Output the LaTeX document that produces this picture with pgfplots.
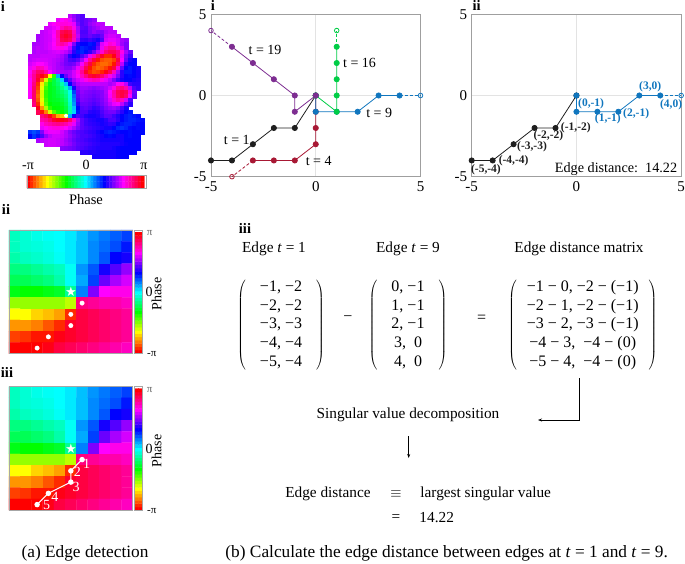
\documentclass[border=0pt]{standalone}
\usepackage{pgfplots}
\usepackage{pgfplotstable}
\usepackage{fontspec}
\setmainfont{Liberation Serif}
\newfontfamily\symfont{DejaVu Sans}
\usetikzlibrary{arrows.meta}
\pgfplotsset{compat=1.18}

\definecolor{tblack}{RGB}{30,30,30}
\definecolor{tred}{RGB}{168,24,52}
\definecolor{tblue}{RGB}{16,118,190}
\definecolor{tgreen}{RGB}{0,205,70}
\definecolor{tpurple}{RGB}{125,45,145}

\newcommand{\ft}{\fontsize{14}{16}\selectfont}
\newcommand{\ftm}{\fontsize{15.3}{18}\selectfont}
\newcommand{\ftx}{\fontsize{16}{18.7}\selectfont}
\newcommand{\ftc}{\fontsize{17.3}{20}\selectfont}
\newcommand{\fts}{\fontsize{11.5}{13}\selectfont\bfseries}
\newcommand{\ftb}{\fontsize{14.5}{17}\selectfont\bfseries}

\pgfplotsset{
  phase map/.style={colormap={phase}{rgb255(0)=(255,0,0) rgb255(60)=(255,255,0) rgb255(120)=(0,255,0) rgb255(180)=(0,255,255) rgb255(240)=(0,0,255) rgb255(300)=(255,0,255) rgb255(360)=(255,0,0)},
    point meta min=0, point meta max=360},
  edge axis/.style={scale only axis, anchor=north west, width=209.5pt, height=162.4pt,
    xmin=-5, xmax=5, ymin=-5, ymax=5, xtick={-5,0,5}, ytick={-5,0,5},
    xticklabels={-5,0,5}, yticklabels={-5,0,5},
    tick style={draw=none}, grid=major, grid style={gray!22, line width=0.6pt},
    axis line style={gray!75, line width=0.8pt}, clip=false,
    tick label style={font=\fontsize{15}{16}\selectfont}, xticklabel style={yshift=-1pt}, yticklabel style={xshift=-1pt}},
  edge/.style={#1, line width=0.8pt, mark=*, mark size=2.6pt, mark options={solid, fill=#1, draw=#1}},
  tail/.style={#1, line width=0.8pt, densely dashed, mark=o, mark size=2.3pt, mark options={solid, draw=#1, fill=none},
    mark indices={2}},
  grid axis/.style={scale only axis, anchor=north west, width=123.7pt, height=123.7pt, phase map,
    xmin=-0.5, xmax=10.5, ymin=-0.5, ymax=10.5, y dir=reverse, ticks=none,
    axis line style={gray!70, line width=0.8pt}, clip=false, axis on top},
  head cell/.style={scatter, only marks, mark=square*, mark size=2pt, point meta=explicit,
    scatter/use mapped color={draw=mapped color, fill=mapped color}},
  bar axis/.style={scale only axis, anchor=north west, hide axis, phase map}
}

% one row of the phase map: row, first column, hue values
\newcommand{\headrow}[3]{\addplot[head cell] table[header=false,row sep=crcr,x expr={30+4*(\coordindex+#2)},y expr={16+4*#1},meta index=0]{#3};}

% phase around the singularity as hue in degrees (0 = -pi, 180 = 0, 360 = pi): col row hue
\pgfplotstableread[header=false,row sep=crcr]{
0 0 165\\1 0 170\\2 0 175\\3 0 178\\4 0 180\\5 0 185\\6 0 195\\7 0 205\\8 0 212\\9 0 218\\10 0 225\\
0 1 165\\1 1 170\\2 1 172\\3 1 175\\4 1 180\\5 1 185\\6 1 195\\7 1 208\\8 1 215\\9 1 222\\10 1 235\\
0 2 160\\1 2 165\\2 2 168\\3 2 172\\4 2 178\\5 2 185\\6 2 195\\7 2 208\\8 2 220\\9 2 240\\10 2 245\\
0 3 150\\1 3 150\\2 3 155\\3 3 160\\4 3 165\\5 3 178\\6 3 205\\7 3 220\\8 3 245\\9 3 260\\10 3 275\\
0 4 140\\1 4 140\\2 4 145\\3 4 150\\4 4 160\\5 4 178\\6 4 200\\7 4 225\\8 4 265\\9 4 280\\10 4 290\\
0 5 125\\1 5 120\\2 5 120\\3 5 125\\4 5 130\\5 5 155\\6 5 210\\7 5 270\\8 5 300\\9 5 305\\10 5 305\\
0 6 85\\1 6 85\\2 6 85\\3 6 85\\4 6 85\\5 6 75\\6 6 330\\7 6 325\\8 6 320\\9 6 320\\10 6 315\\
0 7 60\\1 7 60\\2 7 50\\3 7 45\\4 7 38\\5 7 10\\6 7 345\\7 7 340\\8 7 335\\9 7 330\\10 7 325\\
0 8 35\\1 8 35\\2 8 30\\3 8 20\\4 8 10\\5 8 350\\6 8 345\\7 8 340\\8 8 335\\9 8 330\\10 8 325\\
0 9 15\\1 9 12\\2 9 5\\3 9 5\\4 9 355\\5 9 350\\6 9 345\\7 9 340\\8 9 335\\9 9 330\\10 9 325\\
0 10 0\\1 10 0\\2 10 0\\3 10 355\\4 10 345\\5 10 340\\6 10 335\\7 10 330\\8 10 325\\9 10 320\\10 10 315\\
}\gridtab

% colour bar cells: step, side, hue
\pgfplotstableread[header=false,row sep=crcr]{
0 0 0\\1 0 10\\2 0 20\\3 0 30\\4 0 40\\5 0 50\\6 0 60\\7 0 70\\8 0 80\\9 0 90\\10 0 100\\11 0 110\\12 0 120\\13 0 130\\14 0 140\\15 0 150\\16 0 160\\17 0 170\\18 0 180\\19 0 190\\20 0 200\\21 0 210\\22 0 220\\23 0 230\\24 0 240\\25 0 250\\26 0 260\\27 0 270\\28 0 280\\29 0 290\\30 0 300\\31 0 310\\32 0 320\\33 0 330\\34 0 340\\35 0 350\\36 0 360\\
0 1 0\\1 1 10\\2 1 20\\3 1 30\\4 1 40\\5 1 50\\6 1 60\\7 1 70\\8 1 80\\9 1 90\\10 1 100\\11 1 110\\12 1 120\\13 1 130\\14 1 140\\15 1 150\\16 1 160\\17 1 170\\18 1 180\\19 1 190\\20 1 200\\21 1 210\\22 1 220\\23 1 230\\24 1 240\\25 1 250\\26 1 260\\27 1 270\\28 1 280\\29 1 290\\30 1 300\\31 1 310\\32 1 320\\33 1 330\\34 1 340\\35 1 350\\36 1 360\\
}\bartab

\begin{document}
\begin{tikzpicture}
\path[use as bounding box] (0pt,-563pt) rectangle (685pt,0pt);

% --- phase map (a i)
\begin{axis}[at={(20pt,-10pt)}, anchor=north west, scale only axis, width=130pt, height=155pt,
  xmin=20, xmax=150, ymin=10, ymax=165, y dir=reverse, hide axis, clip=false, phase map]
\headrow{0}{10}{285\\275\\265\\260\\}
\headrow{1}{7}{295\\300\\305\\295\\280\\265\\260\\265\\270\\275\\}
\headrow{2}{5}{295\\300\\305\\308\\308\\305\\295\\270\\260\\265\\275\\280\\285\\285\\}
\headrow{3}{4}{290\\290\\295\\300\\315\\325\\320\\305\\280\\262\\260\\270\\275\\280\\285\\285\\285\\}
\headrow{4}{3}{285\\288\\292\\298\\320\\340\\345\\340\\315\\280\\258\\258\\268\\275\\270\\270\\280\\285\\285\\}
\headrow{5}{2}{280\\285\\288\\290\\300\\320\\345\\352\\345\\320\\285\\260\\260\\265\\260\\258\\265\\285\\290\\290\\285\\}
\headrow{6}{2}{280\\285\\288\\290\\298\\315\\340\\345\\338\\315\\278\\252\\250\\255\\250\\245\\258\\290\\295\\295\\290\\280\\275\\}
\headrow{7}{1}{280\\282\\285\\288\\292\\300\\315\\322\\315\\298\\270\\245\\240\\240\\235\\238\\258\\292\\300\\310\\305\\290\\278\\270\\}
\headrow{8}{1}{282\\285\\285\\288\\292\\298\\305\\305\\298\\285\\255\\238\\232\\235\\238\\245\\265\\295\\315\\325\\325\\310\\288\\270\\}
\headrow{9}{1}{282\\285\\285\\285\\288\\290\\292\\290\\285\\275\\250\\235\\232\\238\\250\\265\\285\\310\\330\\340\\340\\330\\305\\280\\265\\}
\headrow{10}{0}{285\\285\\285\\288\\288\\288\\288\\285\\280\\270\\250\\240\\245\\258\\272\\295\\315\\335\\350\\10\\10\\355\\330\\295\\270\\255\\}
\headrow{11}{0}{285\\288\\290\\290\\290\\288\\285\\282\\278\\268\\258\\255\\262\\278\\298\\325\\345\\5\\18\\22\\22\\15\\345\\300\\265\\245\\240\\}
\headrow{12}{0}{290\\295\\300\\300\\295\\288\\285\\280\\275\\268\\265\\268\\280\\298\\325\\345\\10\\20\\25\\25\\20\\5\\335\\285\\250\\240\\240\\}
\headrow{13}{0}{295\\305\\318\\315\\305\\290\\285\\280\\278\\272\\272\\280\\295\\315\\340\\5\\18\\25\\22\\15\\5\\345\\310\\265\\240\\235\\240\\245\\}
\headrow{14}{0}{300\\320\\335\\335\\320\\300\\288\\282\\280\\278\\280\\290\\305\\325\\350\\10\\18\\15\\8\\355\\340\\315\\280\\250\\235\\235\\240\\245\\}
\headrow{15}{0}{305\\325\\345\\355\\10\\60\\110\\200\\240\\265\\280\\290\\300\\315\\330\\345\\350\\345\\335\\320\\305\\290\\270\\250\\240\\238\\240\\245\\}
\headrow{16}{0}{300\\325\\350\\25\\70\\110\\135\\150\\190\\235\\262\\280\\290\\295\\305\\312\\318\\315\\305\\295\\285\\270\\255\\245\\240\\240\\245\\248\\}
\headrow{17}{0}{300\\330\\10\\55\\95\\125\\135\\145\\160\\195\\240\\268\\280\\285\\285\\285\\285\\285\\285\\285\\280\\285\\300\\305\\285\\255\\250\\250\\}
\headrow{18}{0}{300\\335\\15\\65\\105\\125\\130\\140\\150\\165\\200\\245\\272\\278\\278\\275\\272\\275\\278\\282\\290\\305\\325\\330\\320\\285\\258\\252\\}
\headrow{19}{0}{300\\335\\20\\70\\110\\125\\130\\138\\145\\155\\175\\225\\265\\275\\272\\270\\268\\270\\272\\282\\300\\320\\340\\345\\340\\310\\265\\}
\headrow{20}{0}{300\\335\\25\\70\\110\\125\\130\\135\\140\\150\\172\\215\\262\\272\\270\\268\\265\\268\\272\\280\\298\\318\\338\\345\\335\\300\\262\\}
\headrow{21}{1}{335\\20\\65\\105\\125\\128\\130\\135\\145\\170\\210\\258\\270\\268\\265\\262\\265\\270\\278\\292\\310\\322\\315\\290\\260\\}
\headrow{22}{1}{330\\10\\55\\100\\120\\125\\125\\130\\140\\165\\205\\250\\265\\265\\262\\258\\262\\268\\275\\285\\295\\298\\285\\265\\250\\}
\headrow{23}{2}{355\\35\\80\\110\\120\\122\\125\\135\\160\\195\\240\\260\\262\\258\\252\\255\\262\\270\\275\\278\\272\\258\\245\\}
\headrow{24}{2}{340\\5\\30\\70\\100\\115\\120\\130\\160\\190\\235\\258\\258\\250\\248\\250\\258\\265\\268\\268\\260\\250\\240\\235\\}
\headrow{25}{3}{330\\340\\355\\15\\40\\45\\70\\200\\245\\258\\255\\248\\245\\245\\248\\255\\262\\262\\255\\248\\240\\235\\232\\235\\238\\}
\headrow{26}{3}{320\\325\\335\\350\\355\\355\\350\\335\\310\\280\\262\\255\\250\\248\\245\\245\\250\\258\\258\\250\\240\\235\\232\\232\\235\\238\\}
\headrow{27}{3}{305\\315\\320\\325\\328\\325\\320\\310\\295\\275\\262\\255\\252\\250\\248\\245\\248\\252\\250\\240\\235\\232\\232\\235\\238\\240\\}
\headrow{28}{3}{295\\300\\305\\308\\308\\305\\300\\292\\282\\270\\262\\258\\255\\252\\250\\248\\245\\245\\240\\232\\228\\232\\238\\240\\238\\240\\}
\headrow{29}{0}{228\\222\\228\\270\\292\\296\\296\\295\\290\\282\\272\\265\\260\\258\\255\\252\\250\\245\\240\\235\\232\\235\\238\\240\\240\\238\\240\\240\\238\\}
\headrow{30}{0}{240\\228\\235\\258\\275\\285\\290\\290\\288\\282\\275\\268\\262\\258\\258\\255\\252\\248\\245\\240\\238\\240\\245\\245\\240\\238\\240\\240\\}
\headrow{31}{2}{280\\285\\288\\290\\290\\288\\285\\278\\272\\265\\260\\258\\255\\252\\250\\248\\245\\245\\245\\245\\245\\245\\240\\240\\240\\240\\}
\headrow{32}{4}{288\\290\\290\\288\\285\\280\\275\\268\\262\\260\\258\\255\\252\\250\\248\\248\\248\\248\\248\\245\\242\\240\\240\\240\\}
\headrow{33}{8}{272\\270\\268\\265\\260\\258\\255\\252\\250\\248\\248\\248\\248\\245\\242\\240\\240\\240\\240\\240\\}
\headrow{34}{13}{250\\250\\248\\248\\246\\245\\245\\245\\245\\242\\240\\240\\240\\240\\}
\headrow{35}{16}{245\\245\\245\\245\\245\\245\\242\\240\\240\\}
\addplot[white, densely dotted, line width=0.8pt] coordinates {(55,106) (77.3,106) (77.3,126.7) (55,126.7) (55,106)};
\addplot[only marks, mark=*, mark size=1.8pt, white] coordinates {(66,115.7)};
\end{axis}

% --- colour bars
\begin{axis}[bar axis, at={(27pt,-175pt)}, width=117.4pt, height=13pt, xmin=-0.5, xmax=36.5, ymin=-0.5, ymax=1.5]
\addplot[matrix plot*, mesh/cols=37, point meta=explicit] table[x index=0, y index=1, meta index=2] {\bartab};
\end{axis}
\begin{axis}[bar axis, at={(134pt,-232pt)}, width=8.7pt, height=121.3pt, ymin=-0.5, ymax=36.5, xmin=-0.5, xmax=1.5]
\addplot[matrix plot*, mesh/rows=37, mesh/ordering=y varies, point meta=explicit] table[x index=1, y index=0, meta index=2] {\bartab};
\end{axis}
\begin{axis}[bar axis, at={(134pt,-388.5pt)}, width=8.7pt, height=121.8pt, ymin=-0.5, ymax=36.5, xmin=-0.5, xmax=1.5]
\addplot[matrix plot*, mesh/rows=37, mesh/ordering=y varies, point meta=explicit] table[x index=1, y index=0, meta index=2] {\bartab};
\end{axis}

% --- detail map with the edge points (a ii)
\begin{axis}[grid axis, at={(9pt,-230pt)}]
\addplot[matrix plot*, mesh/cols=11, point meta=explicit] table[x index=0, y index=1, meta index=2] {\gridtab};
\addplot[only marks, mark=*, mark size=2.2pt, white] coordinates {(6,6) (5,7) (5,8) (3,9) (2,10)};
\node[white, font=\symfont\fontsize{13}{13}\selectfont] at (axis cs:5,5) {★};
\end{axis}

% --- detail map with the numbered edge (a iii)
\begin{axis}[grid axis, at={(9pt,-386.5pt)}]
\addplot[matrix plot*, mesh/cols=11, point meta=explicit] table[x index=0, y index=1, meta index=2] {\gridtab};
\addplot[white, line width=1pt, mark=*, mark size=2.2pt, mark options={fill=white}] coordinates {(6,6) (5,7) (5,8) (3,9) (2,10)};
\node[white, font=\symfont\fontsize{13}{13}\selectfont] at (axis cs:5,5) {★};
\node[white, font=\ft] at (axis cs:6.4,6.4) {1};
\node[white, font=\ft] at (axis cs:5.58,7.13) {2};
\node[white, font=\ft] at (axis cs:5.46,8.4) {3};
\node[white, font=\ft] at (axis cs:3.59,9.3) {4};
\node[white, font=\ft] at (axis cs:2.85,10) {5};
\end{axis}

% --- edges at several times (b i)
\begin{axis}[edge axis, at={(211pt,-14.3pt)}]
\addplot[edge=tblack] coordinates {(-5,-4) (-4,-4) (-3,-3) (-2,-2) (-1,-2) (0,0)};
\addplot[edge=tred] coordinates {(-3,-4) (-2,-4) (-1,-4) (0,-3) (0,-2) (0,-1) (0,0)};
\addplot[tail=tred] coordinates {(-3,-4) (-4,-5)};
\addplot[edge=tblue] coordinates {(0,0) (0,-1) (1,-1) (2,-1) (3,0) (4,0)};
\addplot[tail=tblue] coordinates {(4,0) (5,0)};
\addplot[edge=tgreen] coordinates {(0,0) (1,-1) (1,0) (1,1) (1,2) (1,3)};
\addplot[tail=tgreen] coordinates {(1,3) (1,4)};
\addplot[edge=tpurple] coordinates {(-4,3) (-3,2) (-2,1) (-1,0) (-1,-1) (0,0)};
\addplot[tail=tpurple] coordinates {(-4,3) (-5,4)};
\node[font=\ft] at (axis cs:-2.42,2.8) {t = 19};
\node[font=\ft] at (axis cs:2.09,1.98) {t = 16};
\node[font=\ft] at (axis cs:3.03,-1.1) {t = 9};
\node[font=\ft] at (axis cs:-3.77,-2.74) {t = 1};
\node[font=\ft] at (axis cs:0.14,-4) {t = 4};
\end{axis}

% --- edges at t=1 and t=9 (b ii)
\begin{axis}[edge axis, at={(471.7pt,-14.3pt)}]
\addplot[edge=tblack] coordinates {(-5,-4) (-4,-4) (-3,-3) (-2,-2) (-1,-2) (0,0)};
\addplot[edge=tblue] coordinates {(0,0) (0,-1) (1,-1) (2,-1) (3,0) (4,0)};
\addplot[tail=tblue] coordinates {(4,0) (5,0)};
\node[font=\fts, tblack] at (axis cs:-4.32,-4.59) {(-5,-4)};
\node[font=\fts, tblack] at (axis cs:-3,-4) {(-4,-4)};
\node[font=\fts, tblack] at (axis cs:-2.12,-3.17) {(-3,-3)};
\node[font=\fts, tblack] at (axis cs:-1.34,-2.5) {(-2,-2)};
\node[font=\fts, tblack] at (axis cs:-0.03,-1.98) {(-1,-2)};
\node[font=\fts, tblue] at (axis cs:0.7,-0.48) {(0,-1)};
\node[font=\fts, tblue] at (axis cs:1.5,-1.45) {(1,-1)};
\node[font=\fts, tblue] at (axis cs:2.85,-1.1) {(2,-1)};
\node[font=\fts, tblue] at (axis cs:3.52,0.54) {(3,0)};
\node[font=\fts, tblue] at (axis cs:4.52,-0.54) {(4,0)};
\node[font=\fontsize{14.2}{16}\selectfont] at (axis cs:1.89,-4.53) {Edge distance:\ \ 14.22};
\end{axis}

% --- all loose text, in image pixels
\begin{scope}[x=1pt, y=-1pt]
\draw[gray!70, line width=0.8pt] (134,230) rectangle (142.7,353.3);
\draw[gray!70, line width=0.8pt] (134,386.5) rectangle (142.7,510.3);
\draw[gray!70, line width=0.6pt] (27,175) rectangle (146.7,188);

\node[font=\ftb] at (3,6) {i};
\node[font=\ftb] at (6,209) {ii};
\node[font=\ftb] at (7,372) {iii};
\node[font=\ftb] at (213,5) {i};
\node[font=\ftb] at (476.7,5) {ii};
\node[font=\ftb] at (245,228) {iii};

\node[font=\ft] at (28,166) {-π};
\node[font=\ft] at (86,165) {0};
\node[font=\ft] at (144,166) {π};
\node[font=\fontsize{14.5}{16}\selectfont] at (86,200) {Phase};

\node[font=\fontsize{11}{11}\selectfont, gray!80!black] at (149.7,233) {π};
\node[font=\ft] at (149,292) {0};
\node[font=\fontsize{11}{11}\selectfont] at (151.7,354) {-π};
\node[font=\ft, rotate=90] at (156.7,294) {Phase};
\node[font=\fontsize{11}{11}\selectfont, gray!80!black] at (149.7,390) {π};
\node[font=\ft] at (149,449) {0};
\node[font=\fontsize{11}{11}\selectfont] at (151.7,510.7) {-π};
\node[font=\ft, rotate=90] at (156.7,451) {Phase};

\node[font=\ftm] at (274,249) {Edge \textit{t} = 1};
\node[font=\ftm] at (408,249) {Edge \textit{t} = 9};
\node[font=\ftm] at (579,249) {Edge distance matrix};

\node[font=\ftx, inner sep=0pt] at (281,325) {$\left(\vcenter{\hbox{\ \ \begin{tabular}{c}−1, −2\\−2, −2\\−3, −3\\−4, −4\\−5, −4\end{tabular}\ \ }}\right)$};
\node[font=\ftx] at (348,319) {−};
\node[font=\ftx, inner sep=0pt] at (408,325) {$\left(\vcenter{\hbox{\ \ \begin{tabular}{c}0, −1\\1, −1\\2, −1\\3,\ \ 0\\4,\ \ 0\end{tabular}\ \ }}\right)$};
\node[font=\ftx] at (481.7,319) {=};
\node[font=\ftx, inner sep=0pt] at (582.7,325) {$\left(\vcenter{\hbox{\ \begin{tabular}{c}−1 − 0, −2 − (−1)\\−2 − 1, −2 − (−1)\\−3 − 2, −3 − (−1)\\−4 − 3,\ \ −4 − (0)\\−5 − 4,\ \ −4 − (0)\end{tabular}\ }}\right)$};

\draw[-{Stealth[length=4pt,width=3pt]}, line width=0.6pt] (579,378) -- (579,420) -- (538,420);
\node[font=\ftm] at (408,415) {Singular value decomposition};
\draw[-{Stealth[length=4pt,width=3pt]}, line width=0.6pt] (408.7,436) -- (408.7,458);
\node[font=\ftm] at (328,494) {Edge distance};
\node[font=\ftm] at (396,494) {$\equiv$};
\node[font=\ftm] at (485.7,494) {largest singular value};
\node[font=\ftm] at (396,518) {=};
\node[font=\ftm] at (436.7,518) {14.22};

\node[font=\ftc] at (85,553) {(a) Edge detection};
\node[font=\ftc] at (446.7,553) {(b) Calculate the edge distance between edges at \textit{t} = 1 and \textit{t} = 9.};
\end{scope}
\end{tikzpicture}
\end{document}
